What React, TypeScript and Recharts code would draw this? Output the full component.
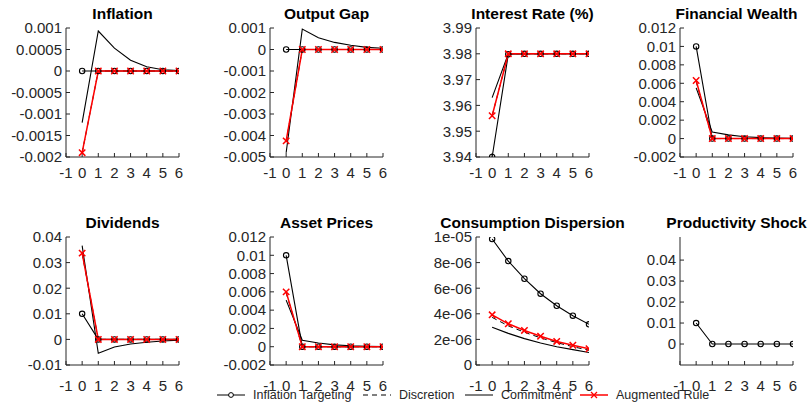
import { LineChart, Line, XAxis, YAxis } from "recharts";

const periods = [0, 1, 2, 3, 4, 5, 6];
const xTicks = [-1, 0, 1, 2, 3, 4, 5, 6];

// Inflation
const inflationIT = [0, 0, 0, 0, 0, 0, 0];
const inflationDisc = [-0.0019, 0, 0, 0, 0, 0, 0];
const inflationComm = [-0.0012, 0.00093, 0.00053, 0.00025, 0.0001, 0.00003, 0.00001];
const inflationAug = [-0.0019, 0, 0, 0, 0, 0, 0];
const inflationTicks = [-0.002, -0.0015, -0.001, -0.0005, 0, 0.0005, 0.001];
const inflationLabels = ["-0.002", "-0.0015", "-0.001", "-0.0005", "0", "0.0005", "0.001"];

// Output gap
const gapIT = [0, 0, 0, 0, 0, 0, 0];
const gapDisc = [-0.0043, 0, 0, 0, 0, 0, 0];
const gapComm = [-0.0048, 0.00095, 0.00055, 0.00033, 0.0002, 0.0001, 0.00006];
const gapAug = [-0.00425, 0, 0, 0, 0, 0, 0];
const gapTicks = [-0.005, -0.004, -0.003, -0.002, -0.001, 0, 0.001];
const gapLabels = ["-0.005", "-0.004", "-0.003", "-0.002", "-0.001", "0", "0.001"];

// Interest rate
const rateIT = [3.94, 3.9798, 3.98, 3.98, 3.98, 3.98, 3.98];
const rateDisc = [3.956, 3.98, 3.98, 3.98, 3.98, 3.98, 3.98];
const rateComm = [3.963, 3.98, 3.98, 3.98, 3.98, 3.98, 3.98];
const rateAug = [3.956, 3.98, 3.98, 3.98, 3.98, 3.98, 3.98];
const rateTicks = [3.94, 3.95, 3.96, 3.97, 3.98, 3.99];
const rateLabels = ["3.94", "3.95", "3.96", "3.97", "3.98", "3.99"];

// Financial wealth
const wealthIT = [0.01, 0, 0, 0, 0, 0, 0];
const wealthDisc = [0.0062, 0, 0, 0, 0, 0, 0];
const wealthComm = [0.0055, 0.0007, 0.0004, 0.0002, 0.0001, 0.00006, 0.00003];
const wealthAug = [0.0063, 0, 0, 0, 0, 0, 0];
const wealthTicks = [-0.002, 0, 0.002, 0.004, 0.006, 0.008, 0.01, 0.012];
const wealthLabels = ["-0.002", "0", "0.002", "0.004", "0.006", "0.008", "0.01", "0.012"];

// Dividends
const divIT = [0.01, 0, 0, 0, 0, 0, 0];
const divDisc = [0.0335, 0, 0, 0, 0, 0, 0];
const divComm = [0.0366, -0.0054, -0.003, -0.0018, -0.0011, -0.0006, -0.0003];
const divAug = [0.0337, 0, 0, 0, 0, 0, 0];
const divTicks = [-0.01, 0, 0.01, 0.02, 0.03, 0.04];
const divLabels = ["-0.01", "0", "0.01", "0.02", "0.03", "0.04"];

// Asset prices
const assetIT = [0.01, 0, 0, 0, 0, 0, 0];
const assetDisc = [0.0059, 0, 0, 0, 0, 0, 0];
const assetComm = [0.0051, 0.0007, 0.0004, 0.0002, 0.0001, 0.00005, 0.00003];
const assetAug = [0.006, 0, 0, 0, 0, 0, 0];
const assetTicks = [-0.002, 0, 0.002, 0.004, 0.006, 0.008, 0.01, 0.012];
const assetLabels = ["-0.002", "0", "0.002", "0.004", "0.006", "0.008", "0.01", "0.012"];

// Consumption dispersion
const dispIT = [9.84e-6, 8.12e-6, 6.74e-6, 5.57e-6, 4.63e-6, 3.85e-6, 3.18e-6];
const dispDisc = [3.72e-6, 3.06e-6, 2.56e-6, 2.12e-6, 1.75e-6, 1.43e-6, 1.15e-6];
const dispComm = [2.95e-6, 2.47e-6, 2.06e-6, 1.72e-6, 1.43e-6, 1.2e-6, 0.98e-6];
const dispAug = [3.92e-6, 3.22e-6, 2.7e-6, 2.25e-6, 1.84e-6, 1.54e-6, 1.27e-6];
const dispTicks = [0, 2e-6, 4e-6, 6e-6, 8e-6, 1e-5];
const dispLabels = ["0", "2e-06", "4e-06", "6e-06", "8e-06", "1e-05"];

// Productivity shock
const shockIT = [0.01, 0, 0, 0, 0, 0, 0];
const shockTicks = [0, 0.01, 0.02, 0.03, 0.04];
const shockLabels = ["0", "0.01", "0.02", "0.03", "0.04"];

const legendNames = ["Inflation Targeting", "Discretion", "Commitment", "Augmented Rule"];

const FONT = "'Liberation Sans', Arial, sans-serif";
const AXIS = "#262626";
const BOX_W = 113;

const CircleDot = (props: any) => {
  const { cx, cy, index } = props;
  if (cx == null || cy == null) return <g key={index} />;
  return <circle key={index} cx={cx} cy={cy} r={2.7} fill="none" stroke="#000" strokeWidth={1.1} />;
};

const CrossDot = (props: any) => {
  const { cx, cy, index } = props;
  if (cx == null || cy == null) return <g key={index} />;
  const s = 3.2;
  return (
    <path
      key={index}
      d={`M${cx - s},${cy - s}L${cx + s},${cy + s}M${cx - s},${cy + s}L${cx + s},${cy - s}`}
      stroke="#ff0000"
      strokeWidth={1.5}
      fill="none"
    />
  );
};

type PanelProps = {
  title: string;
  left: number;
  top: number;
  height: number;
  labelGap: number;
  it: number[];
  disc?: number[];
  comm?: number[];
  aug?: number[];
  domain: [number, number];
  ticks: number[];
  labels: string[];
};

const Panel = ({ title, left, top, height, labelGap, it, disc, comm, aug, domain, ticks, labels }: PanelProps) => {
  const data = periods.map((t, i) => ({
    t,
    it: it[i],
    disc: disc ? disc[i] : undefined,
    comm: comm ? comm[i] : undefined,
    aug: aug ? aug[i] : undefined,
  }));
  const fmt = (v: number) => {
    const i = ticks.findIndex((k) => Math.abs(k - v) < 1e-12);
    return i >= 0 ? labels[i] : String(v);
  };
  const tickStyle = { fill: AXIS, fontSize: 15, fontFamily: FONT };
  return (
    <>
      <div
        style={{
          position: "absolute",
          left: left - 40,
          width: BOX_W + 80,
          top: top - 23,
          textAlign: "center",
          fontFamily: FONT,
          fontWeight: "bold",
          fontSize: 15.5,
          color: "#000",
          lineHeight: "18px",
          whiteSpace: "nowrap",
        }}
      >
        {title}
      </div>
      <div style={{ position: "absolute", left: left - 70, top: top - 10 }}>
        <LineChart
          width={BOX_W + 80}
          height={height + 40}
          data={data}
          margin={{ top: 10, right: 10, bottom: 0, left: 0 }}
        >
          <XAxis
            dataKey="t"
            type="number"
            domain={[-1, 6]}
            ticks={xTicks}
            allowDataOverflow
            height={30}
            tickSize={-4}
            tickMargin={4 + labelGap}
            stroke={AXIS}
            tick={tickStyle}
            interval={0}
          />
          <XAxis
            xAxisId="top"
            orientation="top"
            type="number"
            domain={[-1, 6]}
            ticks={xTicks}
            allowDataOverflow
            height={0}
            tickSize={-4}
            tick={false}
            stroke={AXIS}
          />
          <YAxis
            type="number"
            domain={domain}
            ticks={ticks}
            allowDataOverflow
            width={70}
            tickSize={-4}
            tickMargin={8}
            stroke={AXIS}
            tick={tickStyle}
            tickFormatter={fmt}
            interval={0}
          />
          <YAxis
            yAxisId="right"
            orientation="right"
            type="number"
            domain={domain}
            ticks={ticks}
            allowDataOverflow
            width={0}
            tickSize={-4}
            tick={false}
            stroke={AXIS}
          />
          <Line dataKey="it" stroke="#000" strokeWidth={1.1} dot={CircleDot} isAnimationActive={false} />
          {disc && (
            <Line dataKey="disc" stroke="#000" strokeWidth={1} strokeDasharray="5 4" dot={false} isAnimationActive={false} />
          )}
          {comm && <Line dataKey="comm" stroke="#000" strokeWidth={1.1} dot={false} isAnimationActive={false} />}
          {aug && <Line dataKey="aug" stroke="#ff0000" strokeWidth={1.5} dot={CrossDot} isAnimationActive={false} />}
        </LineChart>
      </div>
    </>
  );
};

const LegendIcon = ({ index }: { index: number }) => {
  const color = index === 3 ? "#ff0000" : "#000";
  return (
    <svg width={30} height={10} style={{ marginRight: 6, flex: "none" }}>
      <line
        x1={0}
        y1={5}
        x2={28}
        y2={5}
        stroke={color}
        strokeWidth={index === 3 ? 1.5 : 1}
        strokeDasharray={index === 1 ? "5 4" : undefined}
      />
      {index === 0 && <circle cx={14} cy={5} r={2.4} fill="#fff" stroke="#000" />}
      {index === 3 && <path d="M11,2L17,8M11,8L17,2" stroke="#ff0000" strokeWidth={1.3} />}
    </svg>
  );
};

const legendLeft = [217, 363, 465, 580];

export default function App() {
  const row1 = 28;
  const row2 = 237;
  const cols = [66, 270, 476, 680];
  return (
    <div style={{ position: "absolute", left: 0, top: 0, width: 809, height: 409, background: "#fff", overflow: "hidden" }}>
      <Panel title="Inflation" left={cols[0]} top={row1} height={129} labelGap={10}
        it={inflationIT} disc={inflationDisc} comm={inflationComm} aug={inflationAug}
        domain={[-0.002, 0.001]} ticks={inflationTicks} labels={inflationLabels} />
      <Panel title="Output Gap" left={cols[1]} top={row1} height={129} labelGap={10}
        it={gapIT} disc={gapDisc} comm={gapComm} aug={gapAug}
        domain={[-0.005, 0.001]} ticks={gapTicks} labels={gapLabels} />
      <Panel title="Interest Rate (%)" left={cols[2]} top={row1} height={129} labelGap={10}
        it={rateIT} disc={rateDisc} comm={rateComm} aug={rateAug}
        domain={[3.94, 3.99]} ticks={rateTicks} labels={rateLabels} />
      <Panel title="Financial Wealth" left={cols[3]} top={row1} height={129} labelGap={10}
        it={wealthIT} disc={wealthDisc} comm={wealthComm} aug={wealthAug}
        domain={[-0.002, 0.012]} ticks={wealthTicks} labels={wealthLabels} />
      <Panel title="Dividends" left={cols[0]} top={row2} height={128} labelGap={15}
        it={divIT} disc={divDisc} comm={divComm} aug={divAug}
        domain={[-0.01, 0.04]} ticks={divTicks} labels={divLabels} />
      <Panel title="Asset Prices" left={cols[1]} top={row2} height={128} labelGap={15}
        it={assetIT} disc={assetDisc} comm={assetComm} aug={assetAug}
        domain={[-0.002, 0.012]} ticks={assetTicks} labels={assetLabels} />
      <Panel title="Consumption Dispersion" left={cols[2]} top={row2} height={128} labelGap={15}
        it={dispIT} disc={dispDisc} comm={dispComm} aug={dispAug}
        domain={[0, 1e-5]} ticks={dispTicks} labels={dispLabels} />
      <Panel title="Productivity Shock" left={cols[3]} top={row2} height={128} labelGap={15}
        it={shockIT}
        domain={[-0.01, 0.051]} ticks={shockTicks} labels={shockLabels} />
      {legendNames.map((name, i) => (
        <div
          key={name}
          style={{
            position: "absolute",
            left: legendLeft[i],
            top: 388,
            display: "flex",
            alignItems: "center",
            fontFamily: FONT,
            fontSize: 12.5,
            color: AXIS,
            lineHeight: "14px",
            whiteSpace: "nowrap",
          }}
        >
          <LegendIcon index={i} />
          <span>{name}</span>
        </div>
      ))}
    </div>
  );
}
